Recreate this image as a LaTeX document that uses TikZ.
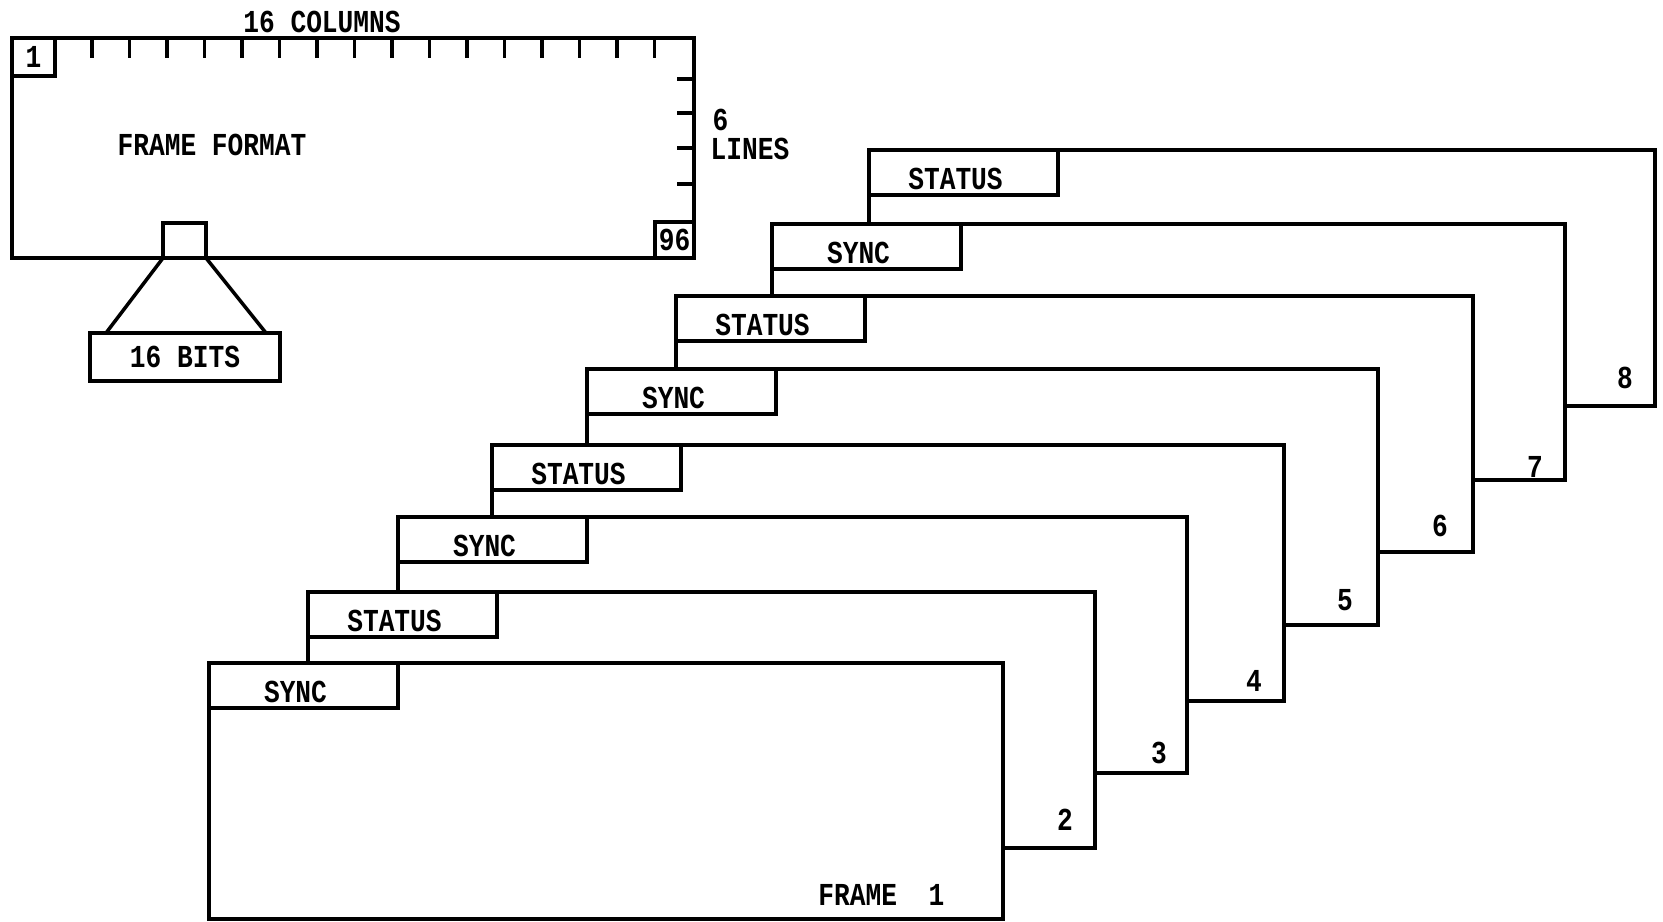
\documentclass[tikz,border=0pt]{standalone}
\usepackage{fontspec}
\usepackage{tikz}
\usetikzlibrary{positioning,calc}
\newfontfamily\typer{Liberation Mono}[FakeStretch=0.82]
\newcommand\txt{\typer\bfseries\fontsize{9.1}{10}\selectfont}
\tikzset{
  ink/.style={line width=1pt,draw=black},
  cell/.style={ink,outer sep=0pt,inner sep=0pt,font=\txt},
  framebox/.style={ink,fill=white,anchor=north west,outer sep=0pt,inner sep=0pt,minimum width=#1,minimum height=2.56cm},
  framebox/.default=7.9cm,
  tabbox/.style={ink,fill=white,anchor=north west,outer sep=0pt,inner sep=0pt,minimum width=1.89cm,minimum height=.45cm,
    label={[lab,xshift=-.08cm,yshift=-.06cm]center:#1}},
  tickmark/.style={ink},
  num/.style={font=\txt,inner sep=0pt},
  lab/.style={font=\txt,inner sep=0pt}
}
\begin{document}
\begin{tikzpicture}[x=1cm,y=1cm]
        \useasboundingbox (0,0) rectangle (16.63,-9.21);
        \node[cell,anchor=north west,minimum width=6.82cm,minimum height=2.20cm] (fmt) at (0.12,-0.38) {};
        \node[cell,anchor=north west,minimum width=.43cm,minimum height=.38cm] (first) at (fmt.north west) {1};
        \node[cell,anchor=south east,minimum width=.39cm,minimum height=.36cm] (last) at (fmt.south east) {96};
        \foreach \i in {0,...,15} \draw[tickmark] ([xshift={(0.80+\i*0.375)*1cm}]fmt.north west) -- ++(0,-.2);
        \foreach \d in {.41,.75,1.10,1.46} \draw[tickmark] ([yshift={-\d*1cm}]fmt.north east) -- ++(-.17,0);
        \node[lab] (cols) at (3.22,-0.22) {16 COLUMNS};
        \node[lab] (title) at (2.12,-1.45) {FRAME FORMAT};
        \node[lab,anchor=west] (six) at (7.12,-1.20) {6};
        \node[lab,anchor=west] (lines) at (7.10,-1.49) {LINES};
        \node[cell,anchor=south west,minimum width=.43cm,minimum height=.35cm] (word) at ([xshift=1.51cm]fmt.south west) {};
        \node[cell,minimum width=1.90cm,minimum height=.48cm] (bits) at (1.85,-3.57) {16 BITS};
        \draw[ink] (word.south west) -- ([xshift=.16cm]bits.north west);
        \draw[ink] (word.south east) -- ([xshift=-.14cm]bits.north east);
        % frames, back to front
        \node[framebox=7.86cm] (f8) at (8.69,-1.50) {};
        \node[tabbox=STATUS] (t8) at (f8.north west) {};
        \node[num] (n8) at ([shift={(-.30,.28)}]f8.south east) {8};
        \node[framebox=7.93cm] (f7) at (7.72,-2.24) {};
        \node[tabbox=SYNC] (t7) at (f7.north west) {};
        \node[num] (n7) at ([shift={(-.30,.13)}]f7.south east) {7};
        \node[framebox=7.97cm] (f6) at (6.76,-2.96) {};
        \node[tabbox=STATUS] (t6) at (f6.north west) {};
        \node[num] (n6) at ([shift={(-.33,.26)}]f6.south east) {6};
        \node[framebox=7.91cm] (f5) at (5.87,-3.69) {};
        \node[tabbox=SYNC] (t5) at (f5.north west) {};
        \node[num] (n5) at ([shift={(-.33,.25)}]f5.south east) {5};
        \node[framebox=7.92cm] (f4) at (4.92,-4.45) {};
        \node[tabbox=STATUS] (t4) at (f4.north west) {};
        \node[num] (n4) at ([shift={(-.30,.20)}]f4.south east) {4};
        \node[framebox=7.89cm] (f3) at (3.98,-5.17) {};
        \node[tabbox=SYNC] (t3) at (f3.north west) {};
        \node[num] (n3) at ([shift={(-.28,.20)}]f3.south east) {3};
        \node[framebox=7.87cm] (f2) at (3.08,-5.92) {};
        \node[tabbox=STATUS] (t2) at (f2.north west) {};
        \node[num] (n2) at ([shift={(-.30,.28)}]f2.south east) {2};
        \node[framebox=7.94cm] (f1) at (2.09,-6.63) {};
        \node[tabbox=SYNC] (t1) at (f1.north west) {};
        \node[num,anchor=east] (n1) at ([shift={(-.58,.24)}]f1.south east) {FRAME~~1};
\end{tikzpicture}
\end{document}
